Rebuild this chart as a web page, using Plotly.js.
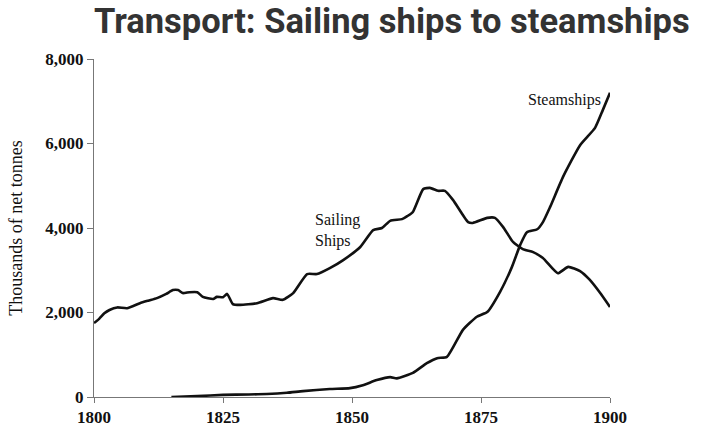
<!DOCTYPE html>
<html>
<head>
<meta charset="utf-8">
<script src="https://cdn.plot.ly/plotly-3.0.1.min.js"></script>
<style>html,body{margin:0;padding:0;background:#fff;}#chart{width:710px;height:436px;}</style>
</head>
<body>
<div id="chart"></div>
<script>
const sailYears = [1800,1801,1802,1803,1804.5,1806.4,1808.9,1810.5,1812.2,1814,1815.3,1816.3,1817.2,1818.5,1820,1821.1,1823.1,1823.8,1825,1825.8,1826.9,1828.3,1831.6,1834.7,1836.6,1838.6,1841.3,1843.2,1845.7,1848.3,1851.6,1854.1,1855.8,1857.4,1859.7,1860.7,1861.8,1863.8,1865.1,1866.7,1868,1869.6,1872.5,1873.4,1876.2,1877.7,1879.3,1881.2,1883.1,1885.1,1887,1889.9,1891.9,1894.2,1896.1,1898.1,1900];
const sailValues = [1750,1850,1980,2060,2120,2100,2220,2280,2340,2440,2530,2530,2460,2480,2480,2370,2320,2370,2360,2440,2200,2180,2220,2340,2300,2460,2910,2910,3050,3240,3550,3950,4000,4170,4210,4280,4380,4920,4950,4880,4880,4660,4140,4120,4240,4240,4020,3670,3500,3430,3290,2930,3080,2980,2770,2460,2130];

const steamYears = [1815,1820,1825,1830,1833.5,1837.4,1840.5,1845.7,1849.6,1852.1,1854.8,1857.4,1858.7,1861.8,1864.5,1866.5,1868.4,1871.5,1874.2,1876.2,1878.7,1881,1882.6,1883.9,1885.9,1887,1888.4,1890.9,1894.2,1897.1,1898.6,1900];
const steamValues = [0,20,50,60,70,100,140,190,210,280,400,470,440,570,800,920,950,1590,1900,2010,2490,3080,3600,3900,3970,4140,4500,5210,5960,6370,6790,7200];

const xTicks = [1800,1825,1850,1875,1900];
const yTicks = [0,2000,4000,6000,8000];
const yTickLabels = ['0','2,000','4,000','6,000','8,000'];

const serif = 'Liberation Serif, Times New Roman, serif';

const traces = [
  {x: sailYears, y: sailValues, mode: 'lines', line: {color: '#111', width: 2.6, shape: 'spline', smoothing: 0.5}, hoverinfo: 'skip'},
  {x: steamYears, y: steamValues, mode: 'lines', line: {color: '#111', width: 2.6, shape: 'spline', smoothing: 0.5}, hoverinfo: 'skip'}
];

const layout = {
  width: 710, height: 436,
  margin: {l: 94, r: 100, t: 59, b: 39},
  paper_bgcolor: '#fff', plot_bgcolor: '#fff',
  showlegend: false,
  title: {
    text: '<b>Transport: Sailing ships to steamships</b>',
    font: {family: 'Roboto, sans-serif', size: 34.5, color: '#333'},
    xref: 'paper', x: 0, xanchor: 'left',
    yref: 'container', y: 0.952, yanchor: 'middle'
  },
  xaxis: {
    range: [1800, 1900], tickvals: xTicks, ticktext: xTicks.map(v => '<b>' + v + '</b>'),
    showgrid: false, zeroline: false, showline: true, linecolor: '#777', linewidth: 1,
    ticks: 'outside', ticklen: 5, tickcolor: '#777',
    tickfont: {family: serif, size: 17, color: '#111'}
  },
  yaxis: {
    range: [0, 8000], tickvals: yTicks, ticktext: yTickLabels.map(v => '<b>' + v + '</b>'),
    showgrid: false, zeroline: false, showline: true, linecolor: '#777', linewidth: 1,
    ticks: 'outside', ticklen: 6, tickcolor: '#777',
    tickfont: {family: serif, size: 17, color: '#111'},
    title: {text: 'Thousands of net tonnes', font: {family: serif, size: 18, color: '#111'}, standoff: 18}
  },
  annotations: [
    {x: 1842.4, y: 3930, xref: 'x', yref: 'y', text: 'Sailing<br>Ships', showarrow: false,
     xanchor: 'left', yanchor: 'middle', align: 'left',
     font: {family: serif, size: 16, color: '#111'}},
    {x: 1898.6, y: 7030, xref: 'x', yref: 'y', text: 'Steamships', showarrow: false,
     xanchor: 'right', yanchor: 'middle',
     font: {family: serif, size: 16, color: '#111'}}
  ]
};

Plotly.newPlot('chart', traces, layout, {staticPlot: true, displayModeBar: false});
</script>
</body>
</html>
